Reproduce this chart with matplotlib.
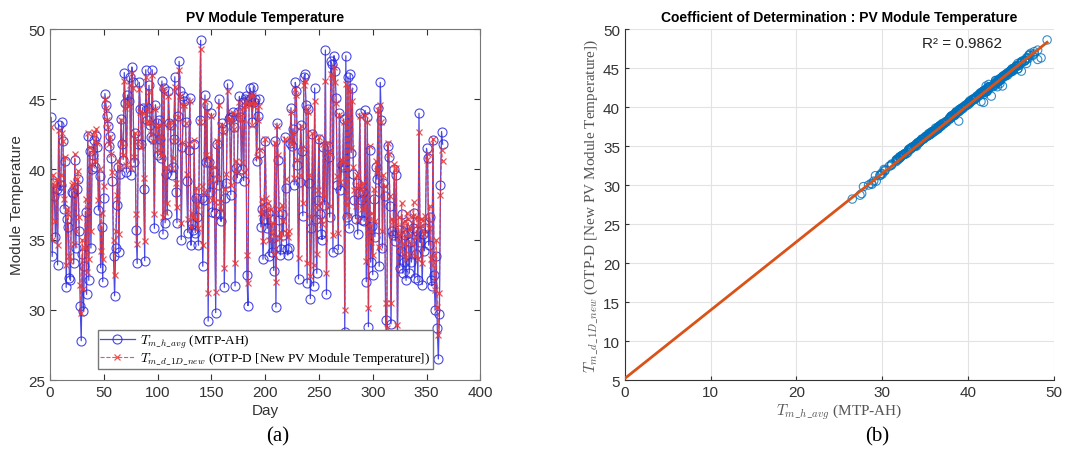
import numpy as np
import matplotlib
matplotlib.use("Agg")
import matplotlib.pyplot as plt

plt.rcParams["font.family"] = ["Liberation Sans", "DejaVu Sans"]
plt.rcParams["mathtext.fontset"] = "cm"

# daily module temperature, measured (MTP-AH)
tm_h_avg = [
    43.7, 33.8, 39.0, 38.1, 35.2, 38.6, 33.2, 43.2, 38.5, 38.9,
    43.4, 42.0, 37.2, 40.6, 31.6, 36.5, 35.9, 32.3, 32.1, 38.4,
    38.3, 33.3, 40.7, 34.4, 38.6, 39.3, 35.6, 30.3, 27.8, 34.0,
    29.9, 33.1, 37.0, 31.1, 42.4, 32.1, 41.3, 34.4, 40.0, 41.0,
    42.1, 40.2, 42.4, 41.6, 37.1, 39.5, 33.0, 35.9, 32.0, 38.0,
    45.4, 44.6, 43.8, 43.1, 41.7, 42.4, 40.8, 39.2, 33.8, 31.0,
    34.4, 37.5, 40.2, 34.1, 39.7, 43.6, 41.8, 40.7, 46.9, 44.7,
    39.8, 45.3, 44.9, 46.6, 39.6, 47.3, 46.2, 40.5, 42.6, 35.7,
    33.3, 41.8, 46.2, 44.3, 41.8, 44.4, 38.6, 33.5, 47.1, 43.5,
    44.4, 46.0, 43.2, 42.3, 47.1, 42.2, 35.8, 44.6, 43.3, 41.0,
    43.5, 42.2, 40.8, 46.3, 35.4, 45.8, 36.2, 39.7, 36.8, 45.6,
    43.3, 43.2, 39.6, 40.2, 42.2, 46.6, 38.4, 36.2, 43.8, 47.7,
    45.6, 35.0, 41.6, 45.2, 44.9, 43.4, 39.2, 35.5, 41.4, 45.1,
    34.6, 36.1, 35.7, 41.8, 35.5, 38.0, 36.6, 34.6, 43.5, 49.2,
    38.0, 33.1, 37.8, 45.3, 40.5, 44.6, 29.2, 40.5, 38.4, 44.0,
    37.0, 39.8, 36.9, 29.8, 41.8, 38.9, 45.0, 36.8, 36.3, 43.3,
    42.9, 31.6, 38.0, 39.0, 46.1, 43.6, 43.7, 38.2, 43.7, 44.1,
    43.0, 31.7, 40.1, 39.4, 44.1, 45.2, 43.7, 40.0, 44.8, 39.2,
    45.0, 45.2, 32.5, 30.3, 44.9, 45.8, 45.1, 43.4, 45.9, 44.8,
    45.0, 40.6, 43.8, 45.0, 41.2, 35.9, 37.2, 33.6, 36.5, 42.0,
    37.3, 35.8, 36.9, 33.8, 36.5, 34.1, 35.1, 32.8, 42.0, 30.2,
    43.3, 40.7, 36.4, 33.9, 34.3, 36.8, 35.3, 42.3, 38.7, 34.3,
    33.9, 34.4, 41.9, 44.4, 41.7, 42.9, 38.9, 46.2, 45.6, 40.3,
    32.2, 39.1, 43.2, 41.3, 36.7, 46.6, 46.8, 44.6, 31.9, 44.3,
    39.0, 30.8, 35.8, 42.5, 31.7, 45.8, 36.5, 32.6, 37.8, 42.2,
    36.8, 35.4, 35.0, 41.6, 37.5, 48.5, 31.1, 41.7, 40.9, 36.6,
    47.7, 47.5, 34.1, 48.1, 47.0, 45.1, 38.9, 34.3, 44.0, 38.5,
    40.3, 40.2, 43.6, 28.4, 48.1, 36.6, 46.6, 35.8, 46.8, 41.2,
    45.8, 39.7, 37.8, 36.5, 39.0, 35.4, 38.3, 44.0, 37.8, 36.4,
    38.4, 36.3, 44.2, 32.0, 43.7, 28.8, 41.4, 33.4, 36.0, 32.5,
    37.9, 35.2, 40.2, 39.3, 44.4, 33.1, 46.2, 43.5, 34.4, 39.0,
    38.1, 29.3, 27.4, 41.7, 40.9, 37.4, 29.0, 35.6, 35.3, 40.0,
    34.9, 39.6, 27.6, 35.7, 33.0, 34.2, 36.8, 32.6, 33.4, 35.3,
    32.1, 36.1, 35.5, 32.6, 34.8, 33.4, 35.8, 36.9, 32.3, 34.0,
    35.6, 32.1, 44.0, 34.8, 35.6, 31.8, 35.4, 34.2, 35.8, 41.5,
    40.8, 34.6, 36.6, 32.1, 31.7, 42.1, 32.5, 30.0, 33.8, 28.7,
    26.5, 29.7, 38.9, 42.7, 41.8,
]

# daily module temperature, new model (OTP-D)
tm_d_1d_new = [
    43.0, 35.0, 39.6, 38.9, 36.3, 39.3, 34.6, 42.8, 39.0, 39.6,
    42.6, 42.0, 37.9, 40.9, 33.2, 37.2, 36.8, 33.8, 33.5, 38.9,
    39.0, 34.7, 41.1, 35.6, 39.3, 39.9, 36.6, 31.8, 29.8, 35.0,
    31.5, 34.5, 37.9, 32.7, 42.6, 33.6, 41.6, 35.6, 40.3, 41.3,
    42.7, 40.6, 42.9, 41.9, 37.8, 40.0, 34.2, 36.9, 33.6, 38.8,
    45.0, 44.4, 43.5, 43.0, 41.8, 42.3, 41.1, 39.8, 35.0, 32.5,
    35.6, 38.2, 40.6, 35.4, 40.2, 43.5, 41.9, 41.0, 46.3, 44.4,
    40.3, 44.8, 44.5, 46.0, 40.1, 46.9, 45.8, 40.9, 42.6, 36.8,
    34.7, 42.0, 45.7, 44.1, 41.6, 44.0, 39.4, 34.9, 46.6, 43.3,
    44.2, 45.5, 43.4, 42.5, 46.7, 42.0, 36.8, 44.3, 43.0, 41.4,
    43.2, 42.4, 41.0, 45.9, 36.6, 45.6, 37.0, 40.2, 37.6, 45.2,
    43.1, 43.4, 40.1, 40.8, 42.0, 45.9, 39.0, 37.3, 43.7, 47.1,
    45.2, 36.2, 41.9, 44.6, 44.6, 43.3, 39.7, 36.5, 41.8, 44.9,
    35.9, 36.9, 36.6, 42.1, 36.5, 38.7, 37.5, 35.8, 43.4, 48.6,
    38.8, 34.6, 38.4, 44.9, 41.0, 44.1, 31.2, 40.9, 39.1, 43.8,
    37.8, 40.2, 37.7, 31.3, 42.0, 39.4, 44.6, 37.7, 37.1, 43.2,
    42.7, 33.0, 38.6, 39.7, 45.6, 43.5, 43.6, 38.9, 43.4, 44.0,
    42.9, 33.3, 40.6, 39.8, 43.9, 44.8, 43.6, 40.5, 44.4, 39.8,
    44.6, 44.9, 33.9, 31.9, 44.6, 45.3, 44.7, 43.2, 45.3, 44.5,
    44.7, 40.9, 43.5, 44.5, 41.4, 36.9, 37.9, 34.9, 37.4, 42.2,
    38.0, 36.7, 37.6, 35.0, 37.2, 35.4, 36.2, 34.0, 41.9, 32.0,
    43.1, 41.0, 37.2, 35.1, 35.5, 37.5, 36.3, 42.2, 39.3, 35.5,
    35.2, 35.6, 42.1, 44.1, 41.8, 42.6, 39.4, 45.7, 45.3, 40.7,
    33.7, 39.6, 43.1, 41.5, 37.6, 46.0, 46.3, 44.3, 33.3, 44.1,
    39.6, 32.4, 36.7, 42.6, 33.2, 44.9, 37.3, 34.0, 38.5, 42.3,
    37.6, 36.4, 36.1, 41.8, 38.1, 46.3, 32.6, 41.9, 41.2, 37.4,
    46.8, 46.6, 35.3, 47.3, 46.2, 44.7, 39.5, 35.5, 43.9, 39.1,
    40.7, 40.5, 43.4, 30.0, 46.1, 37.5, 45.9, 36.7, 45.6, 41.5,
    44.9, 40.2, 38.5, 37.4, 39.6, 36.4, 38.9, 43.8, 38.5, 37.2,
    39.0, 37.2, 43.9, 33.5, 43.4, 30.1, 41.7, 34.8, 36.9, 33.9,
    38.6, 36.3, 40.6, 39.9, 44.2, 34.5, 44.6, 43.4, 35.6, 39.6,
    38.8, 30.5, 28.7, 41.9, 41.1, 38.1, 30.5, 36.5, 36.3, 40.4,
    36.0, 40.1, 28.9, 36.6, 34.4, 35.4, 37.6, 34.0, 34.7, 36.3,
    33.6, 36.9, 36.5, 34.0, 35.9, 34.7, 36.7, 37.7, 33.8, 35.2,
    36.6, 33.6, 42.7, 35.9, 36.5, 33.3, 36.4, 35.4, 36.7, 40.7,
    41.1, 35.8, 37.4, 33.6, 33.2, 42.2, 33.9, 31.4, 35.0, 30.2,
    28.2, 31.2, 38.2, 41.4, 40.6,
]

# linear fit shown in panel (b)
fit_slope = 0.876
fit_intercept = 5.2
r2_text = "R\u00b2 = 0.9862"

tm = np.array(tm_h_avg)
otp = np.array(tm_d_1d_new)
days = np.arange(1, len(tm) + 1)

fig = plt.figure(figsize=(10.81, 4.6), dpi=100)

# ---- (a) time series ----
ax1 = fig.add_axes([0.0463, 0.1717, 0.398, 0.763])
ax1.plot(days, tm, "-o", color="#2a2ae0", lw=0.9, ms=6.5, mfc="none", mew=0.8,
         label=r"$T_{m\_h\_avg}$ (MTP-AH)", alpha=0.85)
ax1.plot(days, otp, "--x", color="#e8383a", lw=0.8, ms=4, mew=0.9,
         label=r"$T_{m\_d\_1D\_new}$ (OTP-D [New PV Module Temperature])", alpha=0.85)
ax1.set_xlim(0, 400)
ax1.set_ylim(25, 50)
ax1.set_xticks(range(0, 401, 50))
ax1.set_yticks(range(25, 51, 5))
ax1.tick_params(direction="in", top=True, right=True, labelsize=11, colors="#333333",
                length=4)
for s in ax1.spines.values():
    s.set_color("#777777")
ax1.set_title("PV Module Temperature", fontsize=10, fontweight="bold", pad=6)
ax1.set_xlabel("Day", fontsize=11, color="#333333", labelpad=3)
ax1.set_ylabel("Module Temperature", fontsize=11, color="#333333", labelpad=3)
ax1.legend(loc="lower center", bbox_to_anchor=(0.5, 0.03), borderaxespad=0,
           fancybox=False, framealpha=1, edgecolor="#777777",
           prop={"family": "Liberation Serif", "size": 9.5},
           borderpad=0.2, handlelength=2.6, handletextpad=0.4, labelspacing=0.05)

# ---- (b) regression ----
ax2 = fig.add_axes([0.578, 0.1717, 0.397, 0.763])
ax2.scatter(tm, otp, s=36, facecolors="none", edgecolors="#0072BD", linewidths=0.8,
            alpha=0.8, zorder=3)
xl = np.array([0, tm.max()])
ax2.plot(xl, fit_slope * xl + fit_intercept, color="#D95319", lw=2, zorder=4)
ax2.set_xlim(0, 50)
ax2.set_ylim(5, 50)
ax2.set_xticks(range(0, 51, 10))
ax2.set_yticks(range(5, 51, 5))
ax2.grid(True, color="#e3e3e3", lw=0.8)
ax2.set_axisbelow(True)
ax2.spines["top"].set_visible(False)
ax2.spines["right"].set_visible(False)
for s in ("left", "bottom"):
    ax2.spines[s].set_color("#333333")
ax2.tick_params(direction="in", labelsize=11, colors="#333333", length=3)
ax2.set_title("Coefficient of Determination : PV Module Temperature", fontsize=10,
              fontweight="bold", pad=6)
ax2.set_xlabel(r"$T_{m\_h\_avg}$ (MTP-AH)", fontsize=11, family="Liberation Serif",
               color="#555555", labelpad=2)
ax2.set_ylabel(r"$T_{m\_d\_1D\_new}$ (OTP-D [New PV Module Temperature])", fontsize=11,
               family="Liberation Serif", color="#555555", labelpad=2)
ax2.text(34.6, 48.2, r2_text, fontsize=11, va="center", ha="left", color="#222222")

fig.text(0.257, 0.05, "(a)", fontsize=15, family="Liberation Serif", ha="center", va="center")
fig.text(0.811, 0.05, "(b)", fontsize=15, family="Liberation Serif", ha="center", va="center")

fig.savefig("out.png", dpi=100)
